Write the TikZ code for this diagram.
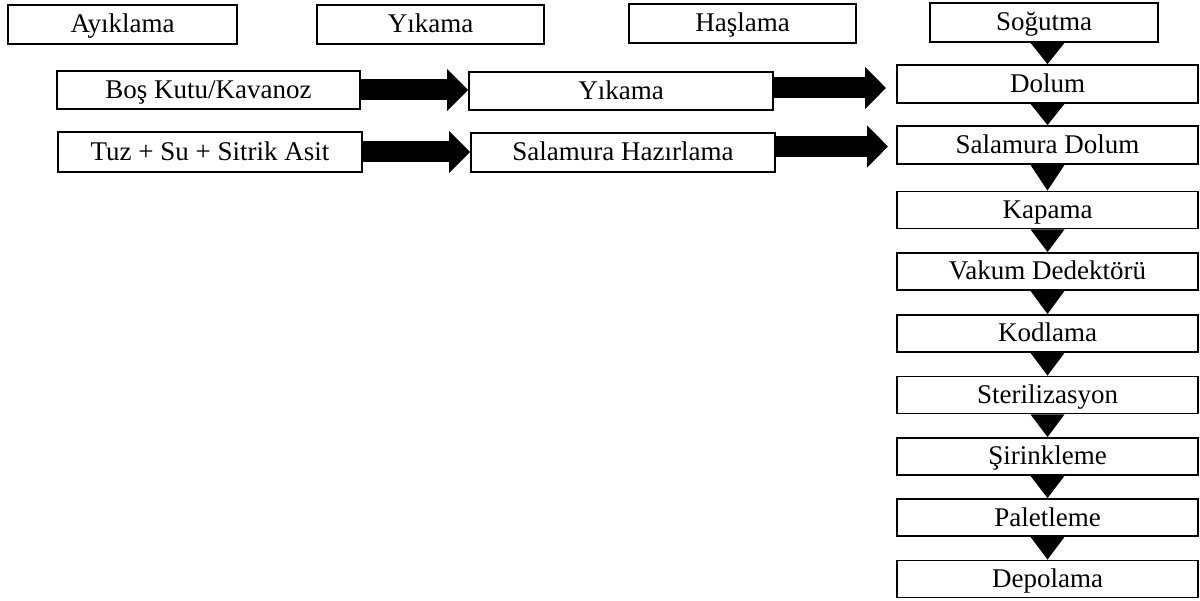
\documentclass[tikz,border=0pt]{standalone}
\usepackage{fontspec}
\setmainfont{Liberation Serif}
\usetikzlibrary{arrows.meta,calc}
\tikzset{
  box/.style={draw, line width=1.8pt, inner sep=0pt, font=\fontsize{27}{30}\selectfont,
              text height=21pt, text depth=4pt, minimum height=#1},
  box/.default=38pt,
  fat/.style={line width=21pt, -{Triangle[length=21pt,width=41pt]}},
  tri/.style={fill=black}
}
\newcommand\dtri[2]{\fill[tri] ($(#2.north |- #1.south)+(-17pt,0)$) -- ($(#2.north |- #1.south)+(17pt,0)$) -- (#2.north) -- cycle;}
\begin{document}
\begin{tikzpicture}[x=1pt,y=-1pt]
\useasboundingbox (0,0) rectangle (1200,601);
% top row
\node[box=39pt, minimum width=229pt] (ayik) at (122.5,24.5) {Ayıklama};
\node[box=39pt, minimum width=227pt] (yik0) at (430.5,24.5) {Yıkama};
\node[box=39pt, minimum width=227pt] (has)  at (742.5,23.5) {Haşlama};
\node[box=39pt, minimum width=228pt] (sog)  at (1044,22.5) {Soğutma};
% row 1
\node[box, minimum width=303pt] (bos)  at (208.5,90) {Boş Kutu/Kavanoz};
\node[box, minimum width=304pt] (yik1) at (621,91) {Yıkama};
% row 2
\node[box=40pt, minimum width=304pt] (tuz) at (210,152) {Tuz + Su + Sitrik Asit};
\node[box=39pt, minimum width=304pt] (sal) at (623,152.5) {Salamura Hazırlama};
% right column
\node[box, minimum width=301pt] (dol) at (1047.5,84) {Dolum};
\node[box, minimum width=301pt] (sd)  at (1047.5,145) {Salamura Dolum};
\node[box=37pt, minimum width=301pt] (kap) at (1047.5,210) {Kapama};
\node[box=37pt, minimum width=301pt] (vak) at (1047.5,271.5) {Vakum Dedektörü};
\node[box=37pt, minimum width=301pt] (kod) at (1047.5,333.5) {Kodlama};
\node[box=37pt, minimum width=301pt] (ste) at (1047.5,395) {Sterilizasyon};
\node[box=37pt, minimum width=301pt] (sir) at (1047.5,456.5) {Şirinkleme};
\node[box=37pt, minimum width=301pt] (pal) at (1047.5,517.5) {Paletleme};
\node[box=37pt, minimum width=301pt] (dep) at (1047.5,579) {Depolama};
% free arrow ends
\coordinate (t1) at (886,88);
\coordinate (t2) at (888,146.5);
% horizontal block arrows
\draw[fat] (bos.east) -- (bos.east -| yik1.west);
\draw[fat] (yik1.east |- t1) -- (t1);
\draw[fat] (tuz.east) -- (tuz.east -| sal.west);
\draw[fat] (sal.east |- t2) -- (t2);
% vertical triangles
\dtri{sog}{dol}
\dtri{dol}{sd}
\dtri{sd}{kap}
\dtri{kap}{vak}
\dtri{vak}{kod}
\dtri{kod}{ste}
\dtri{ste}{sir}
\dtri{sir}{pal}
\dtri{pal}{dep}
\end{tikzpicture}
\end{document}
